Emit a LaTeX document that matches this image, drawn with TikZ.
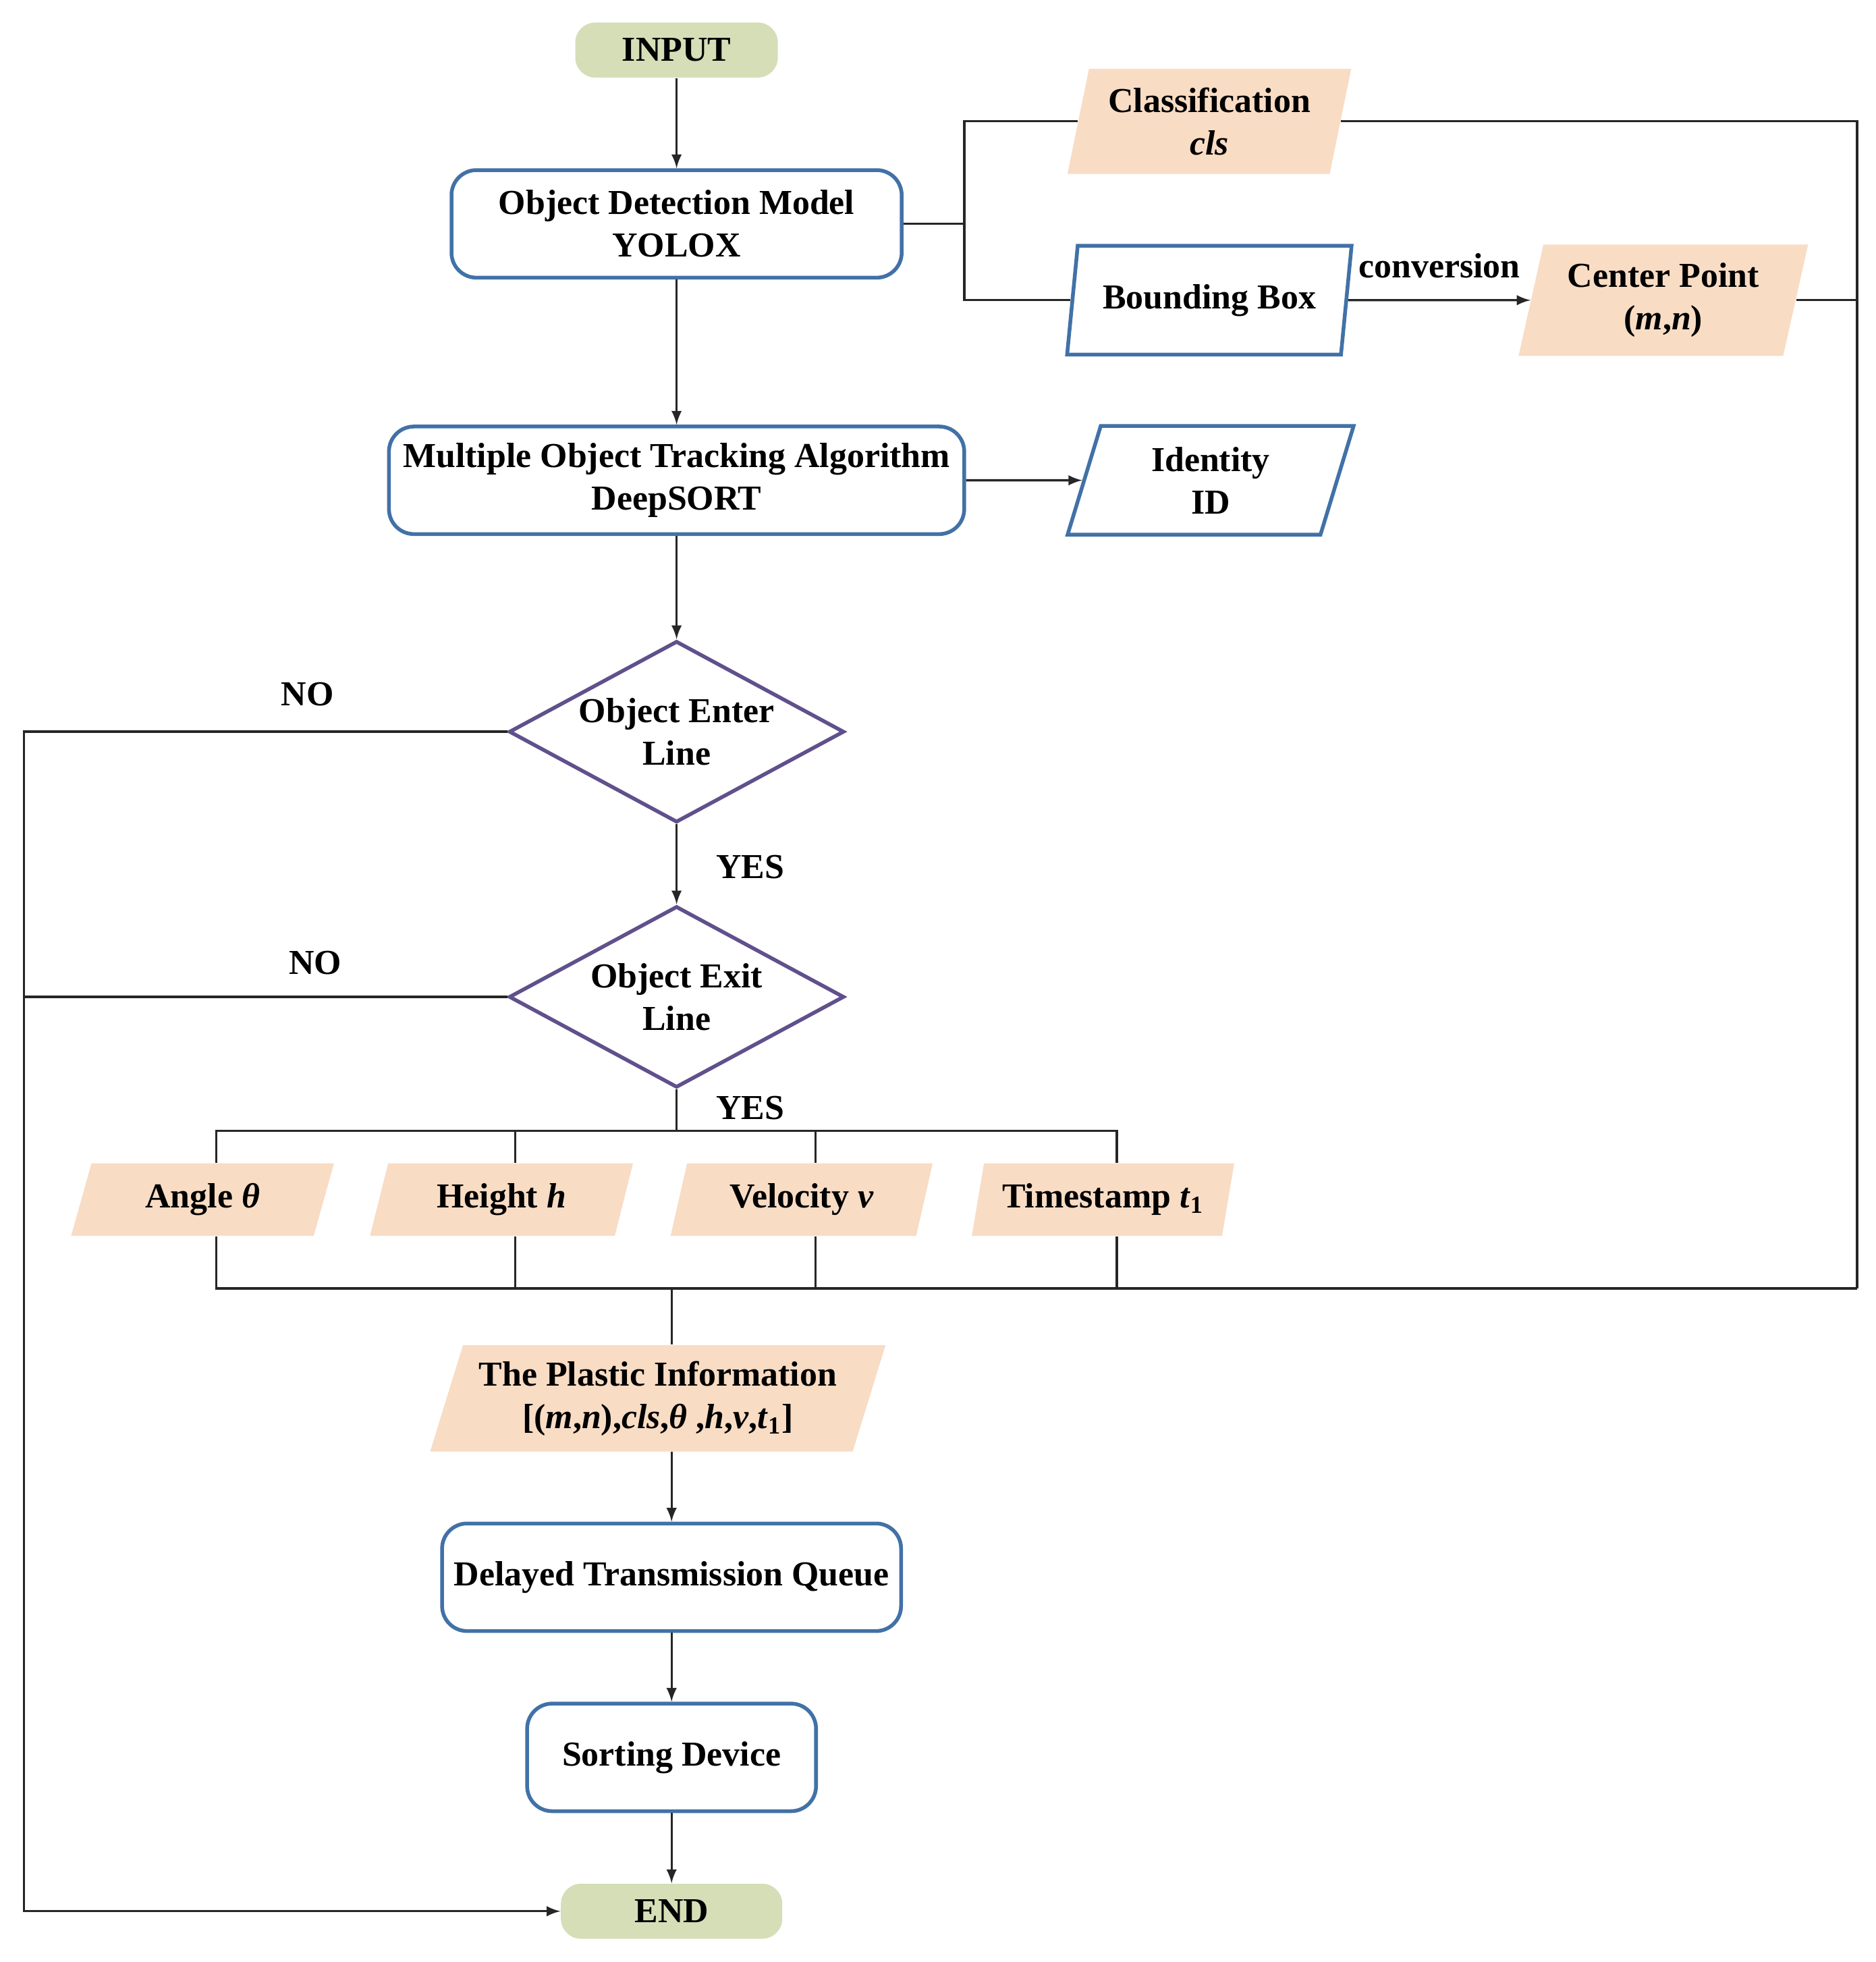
\documentclass[tikz,border=0pt]{standalone}
\usepackage{fontspec}
\setmainfont{Liberation Serif}
\usepackage{tikz}
\usetikzlibrary{arrows}
\usetikzlibrary{positioning}
\usetikzlibrary{shapes.geometric}

\begin{document}
\begin{tikzpicture}[x=0.5pt, y=-0.5pt, font=\fontsize{14pt}{17pt}\selectfont\bfseries]
    \definecolor{my_green}{HTML}{D5DEB7}
    \definecolor{my_peach}{HTML}{F8DCC4}
    \definecolor{my_blue}{HTML}{4171A7}
    \definecolor{my_purple}{HTML}{60508C}
    \tikzstyle{terminal}=[rectangle, rounded corners=8pt, fill=my_green,
                          minimum height=22pt]
    \tikzstyle{process}=[rectangle, rounded corners=10pt, draw=my_blue, line width=1.5pt,
                         fill=white, minimum height=43pt, align=center]
    \tikzstyle{data}=[trapezium, trapezium left angle=75, trapezium right angle=105,
                      trapezium stretches=true, fill=my_peach, inner sep=0pt, align=center]
    \tikzstyle{result}=[data, fill=white, draw=my_blue, line width=1.5pt]
    \tikzstyle{feature}=[data, trapezium left angle=72, trapezium right angle=108,
                         minimum width=105.5pt, minimum height=29pt]
    \tikzstyle{decision}=[diamond, draw=my_purple, line width=1.5pt, aspect=1.85,
                          inner sep=0pt, minimum width=134pt, minimum height=72.5pt, align=center]
    \tikzstyle{link}=[line width=0.9pt, draw=black!85]
    \tikzstyle{flow}=[link, -latex]
    \useasboundingbox (0,0) rectangle (1500,1568.6);

    % nodes
    \node[terminal, minimum width=81pt] (input) at (541,40) {INPUT};
    \node[process, minimum width=180pt] (detect) at (541,179) {Object Detection Model\\YOLOX};
    \node[data, minimum width=114.5pt, minimum height=42pt] (cls) at (967,97) {Classification\\\textit{cls}};
    \node[result, minimum width=114.5pt, minimum height=43.5pt] (bbox) at (967,240) {Bounding Box};
    \node[data, minimum width=116pt, minimum height=44.5pt] (center) at (1330,240) {Center Point\\(\textit{m},\textit{n})};
    \node[process, minimum width=230pt] (mot) at (541,384) {Multiple Object Tracking Algorithm\\DeepSORT};
    \node[result, minimum width=115pt, minimum height=43.5pt] (ident) at (968,384) {Identity\\ID};
    \node[decision] (enter) at (541,585) {Object Enter\\Line};
    \node[decision] (exitd) at (541,797) {Object Exit\\Line};
    \node[feature] (angl) at (162,959) {Angle \textit{θ}};
    \node[feature] (hght) at (401,959) {Height \textit{h}};
    \node[feature] (velo) at (641,959) {Velocity \textit{v}};
    \node[feature] (stamp) at (882,959) {Timestamp \textit{t}\textsubscript{1}};
    \node[data, trapezium left angle=68, trapezium right angle=112, minimum width=182.5pt,
          minimum height=42.5pt] (plastic) at (526,1118)
          {The Plastic Information\\{[}(\textit{m},\textit{n}),\textit{cls},\textit{θ} ,\textit{h},\textit{v},\textit{t}\textsubscript{1}{]}};
    \node[process, minimum width=183.5pt] (queue) at (537,1261) {Delayed Transmission Queue};
    \node[process, minimum width=115.5pt] (sorter) at (537,1405) {Sorting Device};
    \node[terminal, minimum width=88.5pt] (finish) at (537,1528) {END};

    % labels
    \node (no1) at (246,555) {NO};
    \node (no2) at (252,770) {NO};
    \node (yes1) at (600,693) {YES};
    \node (yes2) at (600,886) {YES};

    % connectors
    \coordinate (split) at (771,179);
    \coordinate (rcorner) at (1485,1030);
    \coordinate (topbus) at (541,904);
    \coordinate (lowbus) at (537,1030);
    \coordinate (leftc) at (19,1528);
    \draw[flow] (input) -- (detect);
    \draw[link] (detect.east) -- (split);
    \draw[link] (cls.west) -| (split) |- (bbox.west);
    \draw[flow] (bbox.east) -- node[midway, above=5pt] (conv) {conversion} (center.west);
    \draw[link] (cls.east) -| (rcorner);
    \draw[link] (center.east) -- (center.east -| rcorner);
    \draw[flow] (detect) -- (mot);
    \draw[flow] (mot) -- (ident);
    \draw[flow] (mot) -- (enter);
    \draw[flow] (enter) -- (exitd);
    \draw[link] (exitd.south) -- (topbus);
    \foreach \n in {angl,hght,velo,stamp}
    {
        \draw[link] ([xshift=5.5pt]\n.north) |- (topbus);
        \draw[link] ([xshift=5.5pt]\n.south) |- (lowbus);
    }
    \draw[link] (rcorner) -| ([xshift=5.5pt]stamp.south);
    \draw[link] (lowbus) -- (plastic.north -| lowbus);
    \draw[flow] (plastic.south -| queue) -- (queue);
    \draw[flow] (queue) -- (sorter);
    \draw[flow] (sorter) -- (finish);
    \draw[flow] (enter.west) -| (leftc) -- (finish.west);
    \draw[link] (exitd.west) -- (exitd.west -| leftc);
\end{tikzpicture}
\end{document}
